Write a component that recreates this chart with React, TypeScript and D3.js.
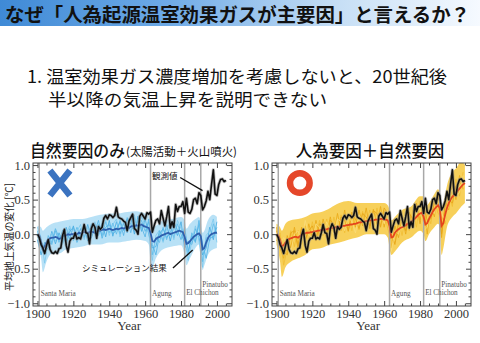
import { useEffect, useRef } from "react";
import * as d3 from "d3";

// observed annual anomaly, 1900-2005
const observed = [
  0.0, -0.05, -0.15, -0.2, -0.28, -0.17, -0.08, -0.22, -0.27, -0.28,
  -0.25, -0.28, -0.21, -0.2, -0.02, 0.07, -0.16, -0.26, -0.1, -0.06,
  -0.06, 0.02, -0.07, -0.05, -0.07, 0.02, 0.14, 0.02, 0.01, -0.14,
  0.08, 0.15, 0.1, -0.06, 0.11, 0.07, 0.1, 0.23, 0.27, 0.22,
  0.28, 0.27, 0.24, 0.27, 0.39, 0.25, 0.23, 0.22, 0.19, 0.17,
  0.05, 0.19, 0.24, 0.29, 0.08, 0.06, 0.0, 0.26, 0.3, 0.26,
  0.22, 0.31, 0.29, 0.32, 0.03, 0.12, 0.2, 0.22, 0.15, 0.34,
  0.23, 0.12, 0.25, 0.4, 0.09, 0.18, 0.1, 0.43, 0.33, 0.4,
  0.4, 0.47, 0.3, 0.52, 0.32, 0.3, 0.36, 0.5, 0.52, 0.44,
  0.6, 0.56, 0.35, 0.4, 0.48, 0.62, 0.5, 0.72, 0.93, 0.58,
  0.56, 0.72, 0.79, 0.8, 0.76, 0.78,
];

// natural-forcing ensemble mean, 1900-2000
const natMean = [
  0.0, -0.02, -0.12, -0.22, -0.18, -0.12, -0.08, -0.06, -0.05, -0.05,
  -0.04, -0.05, -0.07, -0.06, -0.03, -0.02, -0.02, 0.0, -0.01, 0.0,
  0.0, 0.01, 0.0, 0.02, 0.01, 0.02, 0.03, 0.03, 0.02, 0.03,
  0.04, 0.03, 0.02, 0.04, 0.05, 0.05, 0.06, 0.07, 0.06, 0.07,
  0.08, 0.07, 0.06, 0.07, 0.08, 0.07, 0.08, 0.09, 0.08, 0.09,
  0.1, 0.09, 0.11, 0.12, 0.11, 0.13, 0.12, 0.13, 0.14, 0.12,
  0.11, 0.1, 0.09, 0.02, -0.1, -0.11, -0.07, -0.05, -0.04, -0.02,
  -0.01, 0.0, 0.01, 0.02, 0.0, 0.01, 0.02, 0.03, 0.04, 0.05,
  0.04, 0.03, -0.04, -0.14, -0.13, -0.1, -0.07, -0.04, -0.02, 0.0,
  0.01, -0.03, -0.22, -0.2, -0.12, -0.06, -0.02, 0.0, 0.01, 0.02,
  0.02,
];

// all-forcing ensemble mean, 1900-2005
const allMean = [
  0.0, -0.02, -0.08, -0.18, -0.16, -0.12, -0.09, -0.07, -0.06, -0.05,
  -0.04, -0.04, -0.05, -0.03, -0.01, 0.0, 0.01, 0.02, 0.02, 0.03,
  0.03, 0.04, 0.04, 0.05, 0.05, 0.06, 0.06, 0.07, 0.07, 0.08,
  0.08, 0.09, 0.09, 0.1, 0.1, 0.11, 0.11, 0.12, 0.12, 0.13,
  0.13, 0.14, 0.14, 0.15, 0.15, 0.16, 0.17, 0.17, 0.18, 0.18,
  0.19, 0.19, 0.2, 0.2, 0.2, 0.21, 0.21, 0.21, 0.22, 0.22,
  0.21, 0.21, 0.2, 0.12, -0.05, -0.04, 0.02, 0.05, 0.07, 0.09,
  0.1, 0.11, 0.13, 0.15, 0.16, 0.18, 0.2, 0.22, 0.25, 0.28,
  0.3, 0.31, 0.25, 0.14, 0.16, 0.22, 0.27, 0.32, 0.36, 0.39,
  0.42, 0.38, 0.12, 0.16, 0.28, 0.38, 0.45, 0.5, 0.54, 0.57,
  0.6, 0.63, 0.66, 0.69, 0.72, 0.74,
];

// ensemble spread
const natBandYears = [1900, 1902, 1903, 1905, 1908, 1912, 1916, 1920, 1925, 1930, 1935, 1940, 1945, 1950, 1955, 1960, 1962, 1963, 1964, 1966, 1970, 1975, 1980, 1982, 1983, 1985, 1988, 1990, 1991, 1992, 1993, 1995, 1998, 2000];
const natBandLow = [-0.12, -0.35, -0.55, -0.4, -0.28, -0.28, -0.22, -0.2, -0.18, -0.15, -0.15, -0.12, -0.12, -0.1, -0.08, -0.1, -0.15, -0.4, -0.48, -0.35, -0.22, -0.18, -0.16, -0.3, -0.45, -0.35, -0.2, -0.15, -0.3, -0.52, -0.45, -0.3, -0.22, -0.2];
const natBandHigh = [0.12, 0.1, 0.05, 0.1, 0.15, 0.18, 0.2, 0.22, 0.22, 0.25, 0.28, 0.3, 0.3, 0.32, 0.33, 0.3, 0.28, 0.2, 0.1, 0.12, 0.2, 0.22, 0.25, 0.2, 0.08, 0.15, 0.22, 0.25, 0.18, 0.02, 0.05, 0.2, 0.28, 0.25];

const allBandYears = [1900, 1902, 1903, 1905, 1908, 1912, 1916, 1920, 1925, 1930, 1935, 1940, 1945, 1950, 1955, 1960, 1962, 1963, 1964, 1966, 1970, 1975, 1980, 1982, 1983, 1985, 1988, 1990, 1991, 1992, 1993, 1995, 1998, 2000, 2003, 2005];
const allBandLow = [-0.15, -0.4, -0.62, -0.48, -0.4, -0.35, -0.3, -0.22, -0.2, -0.15, -0.12, -0.08, -0.05, 0.0, 0.0, 0.0, -0.05, -0.2, -0.3, -0.25, -0.12, -0.05, 0.05, 0.0, -0.1, 0.0, 0.1, 0.15, 0.1, -0.3, -0.2, 0.1, 0.25, 0.3, 0.4, 0.45];
const allBandHigh = [0.15, 0.1, 0.05, 0.15, 0.2, 0.22, 0.25, 0.3, 0.32, 0.38, 0.45, 0.48, 0.45, 0.45, 0.45, 0.45, 0.42, 0.35, 0.2, 0.25, 0.35, 0.4, 0.55, 0.55, 0.4, 0.45, 0.58, 0.65, 0.6, 0.4, 0.45, 0.7, 0.9, 0.95, 1.05, 1.0];

// a few individual runs, every second year from 1900
const natRuns = [
  [0.05, -0.2, -0.3, -0.02, -0.15, 0.05, -0.12, 0.06, -0.1, 0.08, -0.05, 0.1, -0.04, 0.12, -0.06, 0.15, 0.0, 0.14, -0.02, 0.18, 0.02, 0.16, 0.0, 0.2, 0.05, 0.22, 0.02, 0.24, 0.06, 0.2, 0.04, 0.18, -0.3, -0.05, -0.12, 0.1, -0.08, 0.12, -0.05, 0.15, 0.0, -0.12, -0.3, 0.02, -0.1, 0.14, -0.4, -0.05, -0.1, 0.15, 0.0],
  [-0.08, -0.3, -0.12, -0.18, 0.04, -0.14, 0.02, -0.12, 0.1, -0.08, 0.12, -0.08, 0.08, -0.05, 0.14, -0.06, 0.12, -0.02, 0.16, -0.04, 0.2, -0.03, 0.18, 0.0, 0.16, 0.02, 0.24, 0.0, 0.26, 0.04, 0.22, 0.0, -0.2, -0.18, 0.05, -0.1, 0.14, -0.1, 0.12, -0.02, 0.18, -0.2, -0.1, -0.15, 0.08, -0.05, -0.3, -0.2, 0.1, -0.08, 0.18],
  [0.1, -0.05, -0.42, -0.1, 0.02, -0.1, -0.02, -0.15, 0.0, 0.12, -0.1, 0.04, 0.14, -0.08, 0.1, -0.04, 0.18, 0.0, 0.08, 0.2, -0.02, 0.14, 0.22, -0.04, 0.18, 0.04, 0.1, 0.28, 0.04, 0.26, 0.12, 0.02, -0.38, -0.02, 0.06, -0.12, 0.08, 0.16, -0.08, 0.2, 0.08, -0.02, -0.38, -0.1, 0.12, -0.1, -0.48, -0.02, 0.05, 0.22, -0.12],
  [-0.05, -0.1, -0.25, -0.2, -0.1, 0.08, -0.05, 0.0, -0.15, 0.04, 0.1, -0.12, 0.0, 0.1, -0.1, 0.08, 0.04, 0.2, -0.06, 0.1, 0.14, 0.0, 0.06, 0.18, -0.02, 0.24, 0.14, 0.04, 0.2, 0.1, -0.04, 0.22, -0.15, -0.3, 0.0, 0.08, -0.05, 0.02, 0.18, 0.06, -0.08, 0.1, -0.25, -0.02, -0.12, 0.2, -0.15, -0.35, -0.06, -0.04, 0.1],
];

const allRuns = [
  [0.1, -0.2, -0.35, -0.02, -0.2, 0.1, -0.15, 0.08, -0.12, 0.15, -0.05, 0.2, -0.04, 0.22, 0.0, 0.25, 0.02, 0.3, 0.05, 0.35, 0.04, 0.32, 0.1, 0.35, 0.12, 0.38, 0.08, 0.36, 0.14, 0.4, 0.1, 0.35, -0.2, 0.12, -0.05, 0.25, 0.0, 0.32, 0.1, 0.45, 0.2, 0.45, 0.0, 0.4, 0.25, 0.6, -0.05, 0.45, 0.35, 0.75, 0.5, 0.85, 0.65],
  [-0.1, 0.02, -0.45, -0.2, 0.05, -0.18, 0.06, -0.15, 0.12, -0.1, 0.18, -0.06, 0.2, -0.02, 0.22, -0.02, 0.25, 0.0, 0.28, 0.02, 0.3, 0.05, 0.3, 0.06, 0.33, 0.1, 0.35, 0.08, 0.38, 0.12, 0.34, 0.08, -0.1, -0.12, 0.2, -0.02, 0.28, 0.05, 0.35, 0.1, 0.48, 0.12, 0.3, 0.15, 0.52, 0.3, 0.25, 0.15, 0.6, 0.4, 0.8, 0.55, 0.9],
  [0.05, -0.1, -0.25, -0.3, 0.02, 0.05, -0.2, 0.1, -0.08, 0.05, 0.12, -0.1, 0.15, 0.1, -0.05, 0.2, 0.15, 0.02, 0.25, 0.2, 0.05, 0.28, 0.22, 0.08, 0.3, 0.25, 0.12, 0.34, 0.3, 0.1, 0.38, 0.3, 0.0, -0.15, 0.15, 0.25, 0.05, 0.3, 0.22, 0.4, 0.15, 0.4, 0.2, 0.22, 0.45, 0.55, 0.0, 0.4, 0.5, 0.45, 0.7, 0.75, 0.7],
  [-0.05, -0.15, -0.05, -0.15, -0.25, 0.0, 0.05, -0.12, 0.2, 0.0, -0.08, 0.15, 0.1, 0.0, 0.18, 0.05, 0.0, 0.22, 0.18, 0.05, 0.25, 0.18, 0.02, 0.28, 0.2, 0.05, 0.3, 0.28, 0.05, 0.32, 0.15, 0.35, -0.25, 0.05, 0.0, 0.15, 0.28, 0.1, 0.15, 0.3, 0.38, 0.05, 0.1, 0.35, 0.3, 0.5, 0.3, 0.2, 0.55, 0.65, 0.55, 0.6, 0.85],
];

const xTicks = [1900, 1920, 1940, 1960, 1980, 2000];
const yTicks = [-1, -0.5, 0, 0.5, 1];
const volcanoYears = [1901, 1963, 1982, 1991];
const volcanoNames = ["Santa Maria", "Agung", "El Chichon", "Pinatubo"];

const serif = "'Liberation Serif', 'DejaVu Serif', serif";
const jp = "'Noto Sans CJK JP', sans-serif";

function drawPanel(svg, defs, left, id, cfg) {
  const top = 163, bottom = 306, w = 199;
  const x = d3.scaleLinear().domain([1897.5, 2008.4]).range([left, left + w]);
  const y = d3.scaleLinear().domain([-1.04, 1.03]).range([bottom, top]);
  defs.append("clipPath").attr("id", id)
    .append("rect").attr("x", left).attr("y", top).attr("width", w).attr("height", bottom - top);

  const g = svg.append("g");
  const plot = g.append("g").attr("clip-path", `url(#${id})`);

  const band = cfg.bandYears.map((yr, i) => [yr, cfg.bandLow[i], cfg.bandHigh[i]]);
  plot.append("path")
    .attr("d", d3.area().x((d) => x(d[0])).y0((d) => y(d[1])).y1((d) => y(d[2])).curve(d3.curveMonotoneX)(band))
    .attr("fill", cfg.bandColor).attr("opacity", cfg.bandOpacity);

  const line = d3.line().x((d) => x(d[0])).y((d) => y(d[1]));
  cfg.runs.forEach((run, k) => {
    plot.append("path")
      .attr("d", line(run.map((v, i) => [1900 + i * 2, v])))
      .attr("fill", "none").attr("stroke", cfg.runColors[k % cfg.runColors.length])
      .attr("stroke-width", 0.9).attr("opacity", 0.9);
  });

  plot.selectAll(".volc").data(volcanoYears).enter().append("line")
    .attr("x1", (d) => x(d)).attr("x2", (d) => x(d))
    .attr("y1", top).attr("y2", bottom)
    .attr("stroke", "#a8a8a8").attr("stroke-width", 1.5);

  plot.append("path")
    .attr("d", line(cfg.mean.map((v, i) => [1900 + i, v])))
    .attr("fill", "none").attr("stroke", cfg.meanColor).attr("stroke-width", 1.8);

  const obs = observed.map((v, i) => [1900 + i, v]);
  plot.append("path").attr("d", line(obs))
    .attr("fill", "none").attr("stroke", "#8a8a8a").attr("stroke-width", 3.2).attr("opacity", 0.55)
    .attr("stroke-linejoin", "round");
  plot.append("path").attr("d", line(obs))
    .attr("fill", "none").attr("stroke", "#111").attr("stroke-width", 1.6)
    .attr("stroke-linejoin", "round");

  g.append("rect").attr("x", left).attr("y", top).attr("width", w).attr("height", bottom - top)
    .attr("fill", "none").attr("stroke", "#444").attr("stroke-width", 1);

  const style = (a) => {
    a.select(".domain").remove();
    a.selectAll("line").attr("stroke", "#444");
    a.selectAll("text").attr("font-family", serif).attr("font-size", 12.5).attr("fill", "#333");
  };
  const minorX = d3.range(1900, 2006, 5).filter((d) => d % 20 !== 0);
  const minorY = d3.range(-10, 11).map((d) => d / 10).filter((d) => Math.abs(d * 2 - Math.round(d * 2)) > 0.01);

  g.append("g").attr("transform", `translate(0,${bottom})`)
    .call(d3.axisBottom(x).tickValues(xTicks).tickSize(-5).tickPadding(3).tickFormat(d3.format("d"))).call(style);
  g.append("g").attr("transform", `translate(0,${bottom})`)
    .call(d3.axisBottom(x).tickValues(minorX).tickSize(-2.5).tickFormat(() => "")).call(style);
  g.append("g").attr("transform", `translate(0,${top})`)
    .call(d3.axisTop(x).tickValues(xTicks).tickSize(-5).tickFormat(() => "")).call(style);
  g.append("g").attr("transform", `translate(0,${top})`)
    .call(d3.axisTop(x).tickValues(minorX).tickSize(-2.5).tickFormat(() => "")).call(style);
  g.append("g").attr("transform", `translate(${left},0)`)
    .call(d3.axisLeft(y).tickValues(yTicks).tickSize(-5).tickPadding(3).tickFormat(d3.format(".1f"))).call(style);
  g.append("g").attr("transform", `translate(${left},0)`)
    .call(d3.axisLeft(y).tickValues(minorY).tickSize(-2.5).tickFormat(() => "")).call(style);
  g.append("g").attr("transform", `translate(${left + w},0)`)
    .call(d3.axisRight(y).tickValues(yTicks).tickSize(-5).tickFormat(() => "")).call(style);
  g.append("g").attr("transform", `translate(${left + w},0)`)
    .call(d3.axisRight(y).tickValues(minorY).tickSize(-2.5).tickFormat(() => "")).call(style);

  const labelDy = [0, 0, -1, -9.5];
  g.selectAll(".vlab").data(volcanoYears).enter().append("text")
    .attr("x", (d) => x(d) + 1.5).attr("y", (d, i) => 296 + labelDy[i])
    .attr("font-family", serif).attr("font-size", 7.2).attr("fill", "#555")
    .text((d, i) => volcanoNames[i]);

  g.append("text").attr("x", (x(1900) + x(2000)) / 2 + 2).attr("y", 330)
    .attr("text-anchor", "middle").attr("font-family", serif).attr("font-size", 13).attr("fill", "#333")
    .text("Year");

  return { x, y, g };
}

export default function App() {
  const ref = useRef(null);

  useEffect(() => {
    const svg = d3.select(ref.current);
    svg.selectAll("*").remove();
    const defs = svg.append("defs");
    const grad = defs.append("linearGradient").attr("id", "bar")
      .attr("x1", "0").attr("x2", "1").attr("y1", "0").attr("y2", "0");
    [["0%", "#3f8ad6"], ["35%", "#6eaae6"], ["70%", "#c5def5"], ["100%", "#f6faff"]].forEach(([o, c]) =>
      grad.append("stop").attr("offset", o).attr("stop-color", c));

    svg.append("rect").attr("width", 480).attr("height", 343).attr("fill", "#fff");
    svg.append("rect").attr("width", 480).attr("height", 26).attr("fill", "url(#bar)");
    svg.append("text").attr("x", 5).attr("y", 22)
      .attr("font-family", jp).attr("font-weight", 700).attr("font-size", 18.8).attr("fill", "#111")
      .attr("textLength", 465).attr("lengthAdjust", "spacingAndGlyphs")
      .text("なぜ「人為起源温室効果ガスが主要因」と言えるか？");

    svg.append("text").attr("x", 27).attr("y", 83)
      .attr("font-family", jp).attr("font-size", 17).attr("fill", "#111")
      .attr("textLength", 420).attr("lengthAdjust", "spacingAndGlyphs")
      .text("1. 温室効果ガス濃度増加を考慮しないと、20世紀後");
    svg.append("text").attr("x", 48).attr("y", 106)
      .attr("font-family", jp).attr("font-size", 17).attr("fill", "#111")
      .attr("textLength", 279).attr("lengthAdjust", "spacingAndGlyphs")
      .text("半以降の気温上昇を説明できない");

    svg.append("text").attr("x", 30).attr("y", 157)
      .attr("font-family", jp).attr("font-weight", 500).attr("font-size", 16.5).attr("fill", "#111")
      .attr("textLength", 95).attr("lengthAdjust", "spacingAndGlyphs")
      .text("自然要因のみ");
    svg.append("text").attr("x", 126).attr("y", 156)
      .attr("font-family", jp).attr("font-size", 11.5).attr("fill", "#111")
      .attr("textLength", 111).attr("lengthAdjust", "spacingAndGlyphs")
      .text("(太陽活動＋火山噴火)");
    svg.append("text").attr("x", 370).attr("y", 157).attr("text-anchor", "middle")
      .attr("font-family", jp).attr("font-weight", 500).attr("font-size", 16.5).attr("fill", "#111")
      .text("人為要因＋自然要因");

    svg.append("text").attr("transform", "translate(13,237) rotate(-90)").attr("text-anchor", "middle")
      .attr("font-family", jp).attr("font-size", 10.5).attr("fill", "#222")
      .attr("textLength", 108).attr("lengthAdjust", "spacingAndGlyphs")
      .text("平均地上気温の変化 [°C]");

    const L = drawPanel(svg, defs, 33, "clipL", {
      bandYears: natBandYears, bandLow: natBandLow, bandHigh: natBandHigh,
      bandColor: "#acdcf4", bandOpacity: 0.85,
      runs: natRuns, runColors: ["#5cb9e8", "#45aae0", "#7cc9ee", "#52b2e5"],
      mean: natMean, meanColor: "#2d5fae",
    });
    const R = drawPanel(svg, defs, 272, "clipR", {
      bandYears: allBandYears, bandLow: allBandLow, bandHigh: allBandHigh,
      bandColor: "#f6cb48", bandOpacity: 0.9,
      runs: allRuns, runColors: ["#eaa918", "#f2bd33", "#e6a416", "#fadc7a"],
      mean: allMean, meanColor: "#e5461c",
    });

    // blue cross / red ring
    const cx = L.x(1912.5), cy = L.y(0.74);
    L.g.append("path")
      .attr("d", `M${cx - 10},${cy - 12.5}L${cx + 10},${cy + 12.5}M${cx + 10},${cy - 12.5}L${cx - 10},${cy + 12.5}`)
      .attr("stroke", "#3b73c0").attr("stroke-width", 6.5).attr("fill", "none");
    R.g.append("circle").attr("cx", R.x(1913)).attr("cy", R.y(0.74)).attr("r", 9.8)
      .attr("fill", "none").attr("stroke", "#e5472a").attr("stroke-width", 6.5);

    // annotations
    L.g.append("line").attr("x1", L.x(1979.5)).attr("y1", L.y(0.82)).attr("x2", L.x(1992)).attr("y2", L.y(0.63))
      .attr("stroke", "#111").attr("stroke-width", 1.3);
    L.g.append("text").attr("x", L.x(1978)).attr("y", L.y(0.8)).attr("text-anchor", "end")
      .attr("font-family", jp).attr("font-size", 8.5).attr("fill", "#111").text("観測値");
    L.g.append("line").attr("x1", L.x(1975.5)).attr("y1", L.y(-0.49)).attr("x2", L.x(1986.5)).attr("y2", L.y(-0.23))
      .attr("stroke", "#111").attr("stroke-width", 1.3);
    L.g.append("text").attr("x", L.x(1972)).attr("y", L.y(-0.54)).attr("text-anchor", "end")
      .attr("font-family", jp).attr("font-size", 8.5).attr("fill", "#111").text("シミュレーション結果");
  }, []);

  return (
    <div style={{ position: "absolute", left: 0, top: 0 }}>
      <svg ref={ref} width={480} height={343} style={{ display: "block" }}></svg>
    </div>
  );
}
